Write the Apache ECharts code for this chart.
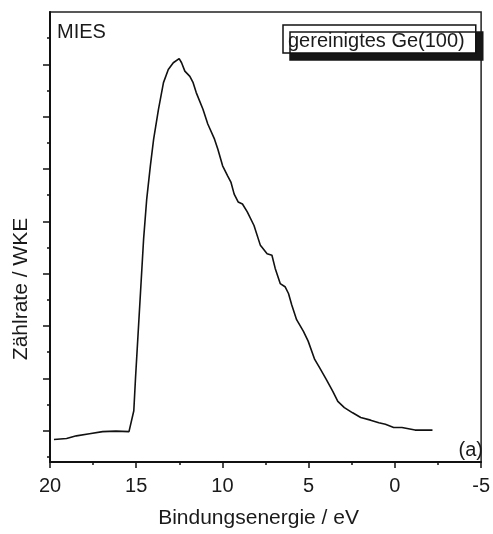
<!DOCTYPE html>
<html>
<head>
<meta charset="utf-8">
<script src="https://cdn.jsdelivr.net/npm/echarts@6/dist/echarts.min.js"></script>
<style>
  html, body { margin: 0; padding: 0; background: #fff; }
  #chart { width: 493px; height: 534px; }
</style>
</head>
<body>
<div id="chart"></div>
<script>
// binding energy (eV) and count rate (arb. units)
const energy = [19.77, 19.04, 18.47, 17.71, 16.95, 16.18, 15.42, 15.33, 15.14, 15.04,
  14.57, 14.39, 14.18, 13.99, 13.71, 13.42, 13.14, 12.85, 12.51, 12.37,
  12.18, 11.89, 11.70, 11.52, 11.13, 10.85, 10.46, 10.27, 9.99, 9.70,
  9.51, 9.32, 9.09, 8.84, 8.56, 8.17, 7.80, 7.41, 7.13, 6.94,
  6.65, 6.37, 6.17, 5.98, 5.70, 5.31, 5.03, 4.65, 4.36, 3.98,
  3.60, 3.31, 2.93, 2.45, 1.98, 1.41, 0.93, 0.55, 0.07, -0.41,
  -1.17, -1.74, -2.18];
const counts = [-0.17, -0.15, -0.10, -0.06, -0.02, -0.01, -0.02, -0.01, 0.38, 1.01,
  3.67, 4.43, 5.06, 5.57, 6.14, 6.65, 6.90, 7.03, 7.11, 7.03,
  6.87, 6.77, 6.65, 6.46, 6.14, 5.86, 5.57, 5.38, 5.06, 4.87,
  4.75, 4.52, 4.37, 4.33, 4.18, 3.92, 3.54, 3.38, 3.35, 3.10,
  2.81, 2.75, 2.62, 2.40, 2.12, 1.90, 1.71, 1.36, 1.20, 0.98,
  0.75, 0.56, 0.44, 0.34, 0.25, 0.20, 0.15, 0.12, 0.06, 0.06,
  0.01, 0.01, 0.01];
const majorTicksY = [0, 1, 2, 3, 4, 5, 6, 7];
const minorTicksY = [-0.5, 0.5, 1.5, 2.5, 3.5, 4.5, 5.5, 6.5, 7.5];

const seriesName = 'gereinigtes Ge(100)';
const textColor = '#1a1a1a';
const font = 'Liberation Sans, Arial, sans-serif';

const chart = echarts.init(document.getElementById('chart'), null, { renderer: 'canvas' });

const yBase = {
  type: 'value',
  min: -0.6,
  max: 8,
  position: 'left',
  axisLabel: { show: false },
  splitLine: { show: false }
};

chart.setOption({
  animation: false,
  backgroundColor: '#fff',
  textStyle: { fontFamily: font },
  grid: {
    left: 50, right: 6, top: 12, bottom: 69,
    show: true, borderColor: '#222', borderWidth: 1.5
  },
  title: [
    { text: 'MIES', left: 57, top: 22, padding: 0,
      textStyle: { fontSize: 20, fontWeight: 'normal', color: textColor, fontFamily: font } },
    { text: '(a)', right: 10, top: 440, padding: 0,
      textStyle: { fontSize: 20, fontWeight: 'normal', color: textColor, fontFamily: font } }
  ],
  legend: {
    data: [seriesName],
    left: 283, top: 25,
    icon: 'none',
    itemWidth: 0, itemHeight: 0, itemGap: 0,
    padding: [6, 11, 2, 0],
    backgroundColor: '#fff',
    borderColor: '#111', borderWidth: 1.5, borderRadius: 0,
    shadowColor: '#161616', shadowBlur: 0, shadowOffsetX: 7, shadowOffsetY: 7,
    textStyle: { fontSize: 20, color: textColor, fontFamily: font },
    selectedMode: false
  },
  xAxis: {
    type: 'value',
    min: -5, max: 20, interval: 5,
    inverse: true,
    name: 'Bindungsenergie / eV',
    nameLocation: 'middle',
    nameGap: 46,
    nameTextStyle: { fontSize: 21, color: textColor, fontFamily: font, padding: [0, 14, 0, 0] },
    axisLine: { onZero: false, lineStyle: { color: '#111', width: 2 } },
    axisTick: { length: 6, lineStyle: { color: '#111', width: 1.5 } },
    minorTick: { show: true, splitNumber: 2, length: 3, lineStyle: { color: '#111', width: 1.5 } },
    axisLabel: { fontSize: 20, color: textColor, margin: 14, fontFamily: font },
    splitLine: { show: false }
  },
  yAxis: [
    Object.assign({}, yBase, {
      axisLine: { show: true, onZero: false, lineStyle: { color: '#111', width: 2 } },
      axisTick: { show: true, length: 7, customValues: majorTicksY, lineStyle: { color: '#111', width: 1.5 } }
    }),
    Object.assign({}, yBase, {
      axisLine: { show: false, onZero: false },
      axisTick: { show: true, length: 3, customValues: minorTicksY, lineStyle: { color: '#111', width: 1.5 } }
    })
  ],
  graphic: [{
    type: 'text',
    x: 21, y: 289,
    rotation: Math.PI / 2,
    style: {
      text: 'Zählrate / WKE',
      fill: textColor,
      font: '21px ' + font,
      align: 'center',
      verticalAlign: 'middle'
    }
  }],
  series: [{
    name: seriesName,
    type: 'line',
    yAxisIndex: 0,
    data: energy.map((e, i) => [e, counts[i]]),
    showSymbol: false,
    symbol: 'none',
    lineStyle: { color: '#111', width: 1.6 }
  }]
});
</script>
</body>
</html>
